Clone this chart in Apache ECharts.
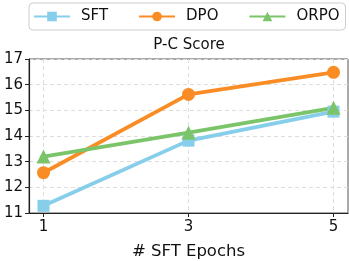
<!DOCTYPE html>
<html><head><meta charset="utf-8">
<script src="https://cdn.jsdelivr.net/npm/echarts@6/dist/echarts.min.js"></script>
<style>html,body{margin:0;padding:0;background:#fff}#c{width:349px;height:261px}</style>
</head><body><div id="c"></div>
<script>
const epochs = [1, 3, 5];
const sft = [11.28, 13.82, 14.95];
const dpo = [12.57, 15.62, 16.48];
const orpo = [13.2, 14.13, 15.1];
const yTicks = [11, 12, 13, 14, 15, 16, 17];

const font = 'DejaVu Sans';
const chart = echarts.init(document.getElementById('c'), null, {renderer: 'canvas'});
function ser(name, vals, color, symbol, size) {
  return {
    name, type: 'line', data: epochs.map((e, i) => [e, vals[i]]),
    symbol, symbolSize: size, showSymbol: true,
    lineStyle: {width: 3.8, color}, itemStyle: {color},
    z: 3
  };
}
chart.setOption({
  animation: false,
  textStyle: {fontFamily: font},
  graphic: [{
    type: 'text', x: 189, y: 45,
    style: {text: 'P-C Score', fontFamily: font, fontSize: 15, fill: '#111',
      textAlign: 'center', textVerticalAlign: 'middle'}
  }],
  legend: {
    top: 3, left: 29,
    itemWidth: 36, itemHeight: 12, itemGap: 30,
    padding: [6, 6, 6, 4],
    borderColor: '#cccccc', borderWidth: 1, borderRadius: 4,
    textStyle: {fontFamily: font, fontSize: 15, color: '#111', padding: [0, 0, 0, 6]},
    data: ['SFT', 'DPO', 'ORPO']
  },
  grid: {left: 29, right: 1, top: 59, bottom: 48, containLabel: false, outerBoundsMode: 'none',
    show: true, borderColor: '#555', borderWidth: 1},
  xAxis: {
    type: 'value', min: 0.8, max: 5.2,
    name: '# SFT Epochs', nameLocation: 'middle', nameGap: 30,
    nameTextStyle: {fontFamily: font, fontSize: 16.5, color: '#111'},
    axisLine: {show: true, lineStyle: {color: '#222', width: 1.2}},
    axisTick: {show: true, length: 4, lineStyle: {color: '#222'}, customValues: epochs},
    axisLabel: {fontFamily: font, fontSize: 15, color: '#111', margin: 7, customValues: epochs},
    splitLine: {show: true, lineStyle: {type: [4, 3], color: '#dddddd', width: 1}, customValues: epochs}
  },
  yAxis: {
    type: 'value', min: 11, max: 17, interval: 1,
    axisLine: {show: true, lineStyle: {color: '#222', width: 1.2}},
    axisTick: {show: true, length: 4, lineStyle: {color: '#222'}},
    axisLabel: {fontFamily: font, fontSize: 15, color: '#111', margin: 6, customValues: yTicks},
    splitLine: {show: true, lineStyle: {type: [4, 3], color: '#dddddd', width: 1}}
  },
  series: [
    ser('SFT', sft, '#87ceeb', 'rect', 12),
    ser('DPO', dpo, '#fa8c25', 'circle', 13),
    ser('ORPO', orpo, '#7cc46a', 'triangle', 14)
  ]
});
</script></body></html>
